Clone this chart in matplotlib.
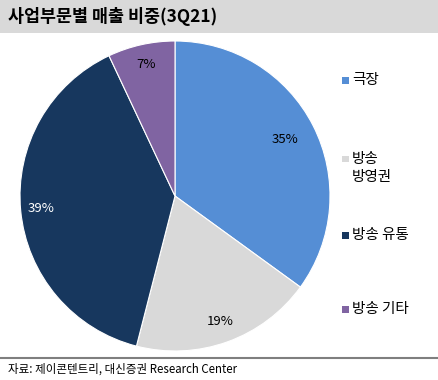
import matplotlib
matplotlib.use("Agg")
import matplotlib.pyplot as plt
from matplotlib.patches import Rectangle
from matplotlib.lines import Line2D
import numpy as np

plt.rcParams['font.family'] = ['Noto Sans CJK KR', 'DejaVu Sans']

categories = ['극장', '방송\n방영권', '방송 유통', '방송 기타']
values = [35, 19, 39, 7]
labels = ['35%', '19%', '39%', '7%']
colors = ['#558ed5', '#d9d9d9', '#17375e', '#8064a2']

W, H = 439, 380
fig = plt.figure(figsize=(W/100, H/100), dpi=100)

# title band
fig.patches.append(Rectangle((0, 1 - 33/H), 1, 33/H, transform=fig.transFigure,
                             facecolor='#d9d9d9', edgecolor='none', zorder=0))
fig.text(8/W, 1 - 17/H, '사업부문별 매출 비중(3Q21)', fontsize=12.5, fontweight='bold',
         va='center', ha='left', color='#000000')

cx, cy, r = 175, 196, 155
ax = fig.add_axes([(cx - r)/W, (H - cy - r)/H, 2*r/W, 2*r/H])
wedges, _ = ax.pie(values, colors=colors, startangle=90, counterclock=False,
                   wedgeprops=dict(edgecolor='white', linewidth=0.8))
ax.set_aspect('equal')
ax.set_xlim(-1, 1)
ax.set_ylim(-1, 1)

# percentage labels
cum = np.cumsum([0] + values[:-1])
dists = [0.80, 0.86, 0.87, 0.87]
for v, c, lab, d in zip(values, cum, labels, dists):
    ang = np.deg2rad(90 - 360 * (c + v/2) / 100)
    ax.text(d*np.cos(ang), d*np.sin(ang), lab, ha='center', va='center',
            fontsize=9.5, color='#000000' if lab != '39%' else '#ffffff')

# legend
leg_y = [80, 168, 235, 309]
for cat, col, yy in zip(categories, colors, leg_y):
    sq_y = yy - 9 if '\n' in cat else yy
    fig.patches.append(Rectangle((342/W, 1 - (sq_y + 3.5)/H), 7/W, 7/H, transform=fig.transFigure,
                                 facecolor=col, edgecolor='none'))
    fig.text(352/W, 1 - yy/H, cat, fontsize=10.5, va='center', ha='left',
             linespacing=1.35, color='#000000')

# bottom line and source
fig.add_artist(Line2D([0, 1], [1 - 358/H, 1 - 358/H], transform=fig.transFigure,
                      color='#7f7f7f', linewidth=1.5))
fig.text(8/W, 1 - 369/H, '자료: 제이콘텐트리, 대신증권 Research Center', fontsize=8.3,
         va='center', ha='left', color='#000000')

fig.savefig('out.png', dpi=100)
